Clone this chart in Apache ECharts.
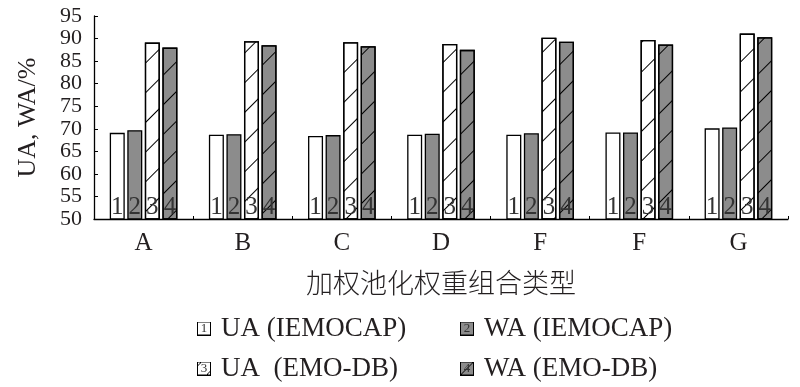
<!DOCTYPE html>
<html>
<head>
<meta charset="utf-8">
<script src="https://cdn.jsdelivr.net/npm/echarts@6/dist/echarts.min.js"></script>
<style>
html,body{margin:0;padding:0;background:#fff;}
#chart{width:800px;height:387px;}
</style>
</head>
<body>
<div id="chart"></div>
<script>
// ---- data ----
const categories = ['A', 'B', 'C', 'D', 'F', 'F', 'G'];
const uaIemocap = [69.1, 68.7, 68.4, 68.7, 68.7, 69.2, 70.1];
const waIemocap = [69.7, 68.8, 68.6, 68.9, 69.0, 69.2, 70.3];
const uaEmodb   = [89.1, 89.4, 89.2, 88.8, 90.2, 89.7, 91.1];
const waEmodb   = [88.0, 88.5, 88.3, 87.5, 89.3, 88.7, 90.3];
const seriesNames = ['UA (IEMOCAP)', 'WA (IEMOCAP)', 'UA  (EMO-DB)', 'WA (EMO-DB)'];
const barTags = ['1', '2', '3', '4'];
const yMin = 50, yMax = 95, yStep = 5;
const xTitle = '加权池化权重组合类型';
const yTitle = 'UA, WA/%';

// ---- styles ----
const serif = '"Liberation Serif", "Times New Roman", serif';
const txt = '#231f20';
const gray = '#8c8c8c';
const fills = ['#ffffff', gray, '#ffffff', gray];
const hatched = [false, false, true, true];
const values = [uaIemocap, waIemocap, uaEmodb, waEmodb];

function swatch(i) {
  const s = 14;
  const c = document.createElement('canvas');
  c.width = s; c.height = s;
  const ctx = c.getContext('2d');
  ctx.fillStyle = fills[i];
  ctx.fillRect(0, 0, s, s);
  ctx.strokeStyle = '#000';
  ctx.lineWidth = 1;
  ctx.strokeRect(0.5, 0.5, s - 1, s - 1);
  if (hatched[i]) {
    ctx.beginPath();
    if (i === 2) { ctx.moveTo(9, s); ctx.lineTo(s, 9); ctx.moveTo(0, 5); ctx.lineTo(5, 0); }
    else { ctx.moveTo(1, s - 1); ctx.lineTo(s - 1, 1); }
    ctx.stroke();
  }
  return c;
}

const series = values.map((v, i) => ({
  name: seriesNames[i],
  type: 'bar',
  data: v,
  barWidth: 15,
  barGap: '17%',
  itemStyle: Object.assign({
    color: fills[i],
    borderColor: '#000',
    borderWidth: 1.3
  }, hatched[i] ? {
    decal: {
      symbol: 'rect',
      symbolSize: 1,
      dashArrayX: [1, 0],
      dashArrayY: [1, 20],
      rotation: -Math.PI / 4,
      color: '#000'
    }
  } : {}),
  label: {
    show: true,
    position: 'insideBottom',
    distance: 0,
    formatter: barTags[i],
    fontFamily: serif,
    fontSize: 25,
    color: '#333'
  },
  emphasis: { disabled: true }
}));

const legendPos = [
  { left: 187, top: 310 },
  { left: 450, top: 310 },
  { left: 187, top: 350 },
  { left: 450, top: 350 }
];
const legends = seriesNames.map((n, i) => ({
  data: [n],
  left: legendPos[i].left,
  top: legendPos[i].top,
  icon: 'none',
  itemWidth: 0,
  itemHeight: 14,
  selectedMode: false,
  formatter: function (name) { return '{b|' + barTags[i] + '}{sp|}' + name; },
  textStyle: {
    fontFamily: serif,
    fontSize: 27,
    color: txt,
    rich: {
      b: {
        width: 14, height: 14, lineHeight: 14,
        align: 'center', verticalAlign: 'middle',
        fontFamily: serif, fontSize: 13, color: '#333',
        backgroundColor: { image: swatch(i) }
      },
      sp: { width: 10 }
    }
  }
}));

const chart = echarts.init(document.getElementById('chart'), null, { renderer: 'canvas' });
chart.setOption({
  animation: false,
  backgroundColor: '#fff',
  grid: { left: 94, right: 12, top: 16, bottom: 168, containLabel: false },
  legend: legends,
  xAxis: {
    type: 'category',
    data: categories,
    axisLine: { lineStyle: { color: '#000', width: 1.3 } },
    axisTick: { show: true, inside: true, length: 3, lineStyle: { color: '#000' } },
    axisLabel: { fontFamily: serif, fontSize: 25, color: txt, margin: 12 },
    name: xTitle,
    nameLocation: 'middle',
    nameGap: 50,
    nameTextStyle: { fontFamily: '"Noto Sans CJK SC", sans-serif', fontSize: 27, color: txt, fontWeight: 300 }
  },
  yAxis: {
    type: 'value',
    min: yMin, max: yMax, interval: yStep,
    axisLine: { show: true, lineStyle: { color: '#000', width: 1.3 } },
    axisTick: { show: true, inside: true, length: 4, lineStyle: { color: '#000' } },
    splitLine: { show: false },
    axisLabel: { fontFamily: serif, fontSize: 22, color: txt, margin: 12 },
    name: yTitle,
    nameLocation: 'middle',
    nameRotate: 90,
    nameGap: 53,
    nameTextStyle: { fontFamily: serif, fontSize: 26, color: txt }
  },
  series: series
});
</script>
</body>
</html>
